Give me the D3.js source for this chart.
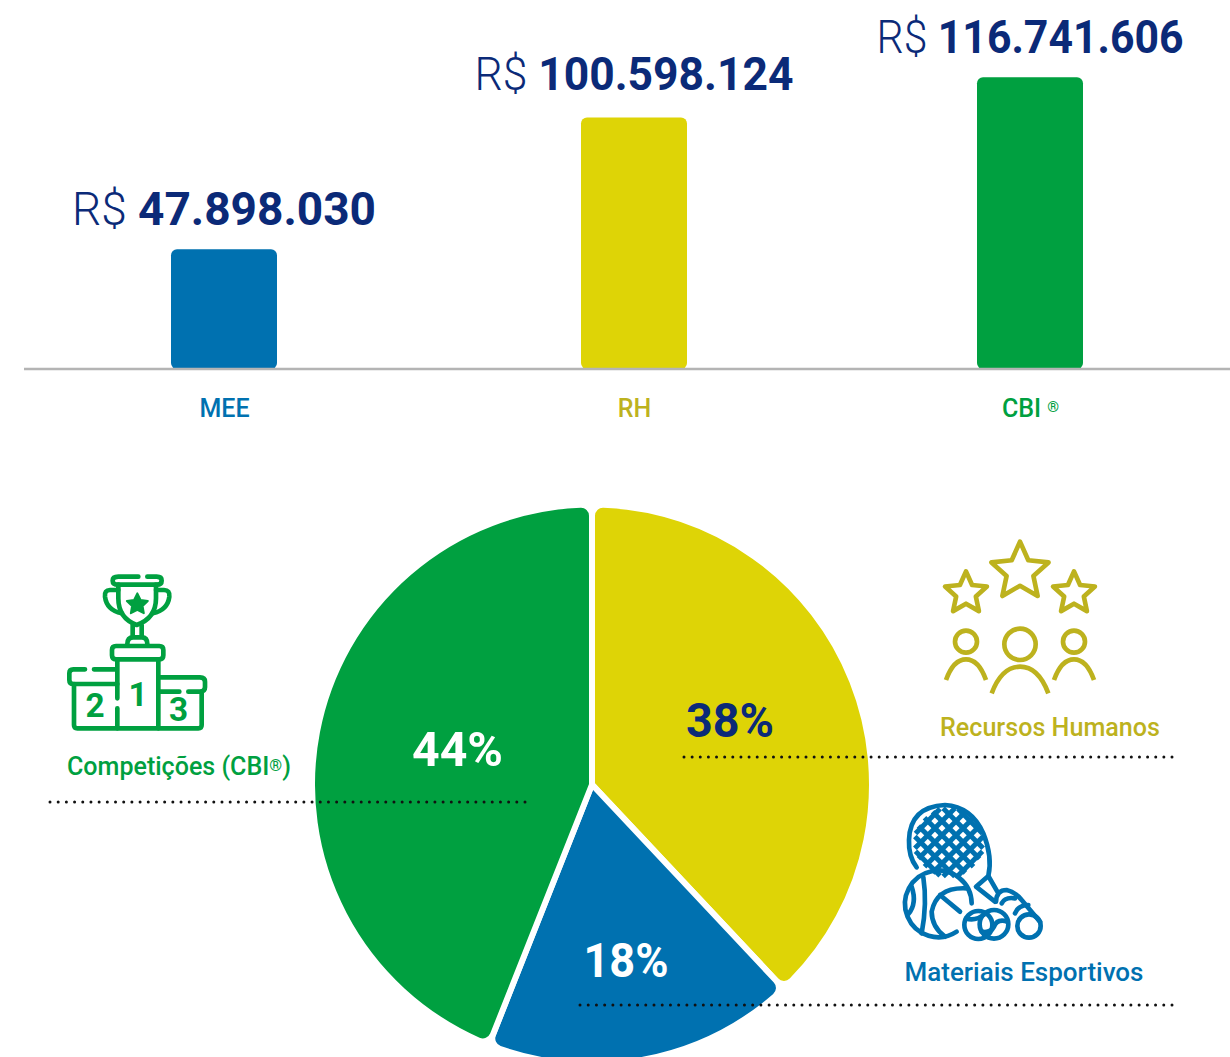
<!DOCTYPE html>
<html><head><meta charset="utf-8">
<script src="https://cdnjs.cloudflare.com/ajax/libs/d3/7.8.5/d3.min.js"></script>
<style>html,body{margin:0;padding:0;background:#fff}svg{display:block}text{font-family:Roboto,sans-serif}</style>
</head><body><svg id="c" width="1230" height="1057"></svg>
<script>
const categories=["MEE","RH","CBI ®"];
const amounts=[47898030,100598124,116741606];
const amountLabels=["47.898.030","100.598.124","116.741.606"];
const barColors=["#0071b0","#ded406","#00a040"];
const categoryColors=["#0071b0","#bdb21e","#00a040"];
const shareNames=["Recursos Humanos","Materiais Esportivos","Competições (CBI®)"];
const shares=[38,18,44];
const shareColors=["#ded406","#0071b0","#00a040"];
const shareTextColors=["#0b2a78","#ffffff","#ffffff"];
const navy="#0b2a78";

const svg=d3.select("#c");
const x=d3.scaleOrdinal().domain(categories).range([224,634,1030]);
const y=d3.scaleLinear().domain([0,120000000]).range([369,69]);
const barW=106;

svg.selectAll("rect.bar").data(categories).join("rect").attr("class","bar")
 .attr("x",d=>x(d)-barW/2).attr("width",barW)
 .attr("y",(d,i)=>y(amounts[i])).attr("height",(d,i)=>y(0)-y(amounts[i]))
 .attr("rx",6).attr("fill",(d,i)=>barColors[i]);
svg.append("line").attr("x1",24).attr("x2",1230).attr("y1",y(0)).attr("y2",y(0)).attr("stroke","#b4b4b4").attr("stroke-width",2.5);

function smallMark(sel,size,dy){ /* sets the registered-trademark sign smaller and raised */
  sel.each(function(){const s=this.textContent,k=s.indexOf("®");if(k<0)return;
    const t=d3.select(this);t.text(null);
    t.append("tspan").text(s.slice(0,k));
    t.append("tspan").attr("font-size",size).attr("dy",dy).text("®");
    if(k+1<s.length)t.append("tspan").attr("dy",-dy).text(s.slice(k+1));});
}

const ax=svg.append("g").attr("transform",`translate(0,${y(0)})`).call(d3.axisBottom(x).tickSize(0).tickPadding(30));
ax.select(".domain").remove();
ax.selectAll("text").attr("font-size",25).attr("font-weight",500).attr("font-family","Roboto")
 .attr("fill",(d,i)=>categoryColors[i]).call(smallMark,15,-5);

const amtOffset=[24,28,24],amtWidth=[304,319,307];
svg.selectAll("text.amt").data(categories).join("text").attr("class","amt")
 .attr("x",(d,i)=>x(d)).attr("y",(d,i)=>y(amounts[i])-amtOffset[i]).attr("text-anchor","middle")
 .attr("font-size",47).attr("fill",navy)
 .attr("textLength",(d,i)=>amtWidth[i]).attr("lengthAdjust","spacingAndGlyphs")
 .each(function(d,i){const t=d3.select(this);
   t.append("tspan").attr("font-weight",300).text("R$ ");
   t.append("tspan").attr("font-weight",700).text(amountLabels[i]);});

/* pie: white outline gives the constant gap between slices */
const R=280,cx=592,cy=784.5;
const pie=d3.pie().sort(null).value(d=>d);
const arc=d3.arc().innerRadius(0).outerRadius(R).cornerRadius(11);
const gp=svg.append("g").attr("transform",`translate(${cx},${cy})`);
gp.selectAll("path").data(pie(shares)).join("path").attr("d",arc).attr("fill",(d,i)=>shareColors[i])
  .attr("stroke","#fff").attr("stroke-width",6).attr("stroke-linejoin","round");

/* dotted leaders */
const dots=[[684,1172,757],[50,525,802],[580,1172,1005]];
svg.selectAll("line.dot").data(dots).join("line").attr("class","dot")
 .attr("x1",d=>d[0]).attr("x2",d=>d[1]+.5).attr("y1",d=>d[2]).attr("y2",d=>d[2])
 .attr("stroke","#111").attr("stroke-width",3).attr("stroke-linecap","round")
 .attr("stroke-dasharray",d=>`0 ${(d[1]-d[0])/Math.round((d[1]-d[0])/8.2)}`);

/* percent labels */
const pctPos=[[730,737],[626,977],[457.5,766]],pctWidth=[88,85,91];
svg.selectAll("text.pct").data(shares).join("text").attr("class","pct")
 .attr("x",(d,i)=>pctPos[i][0]).attr("y",(d,i)=>pctPos[i][1]).attr("text-anchor","middle")
 .attr("font-size",48).attr("font-weight",700).attr("fill",(d,i)=>shareTextColors[i])
 .attr("textLength",(d,i)=>pctWidth[i]).attr("lengthAdjust","spacingAndGlyphs").text(d=>d+"%");

/* legend names */
const namePos=[[1050,736],[1024,981],[179,775]],nameWidth=[220,239,224];
const nameCol=["#bdb21e","#0071b0","#00a040"];
svg.selectAll("text.nm").data(shareNames).join("text").attr("class","nm")
 .attr("x",(d,i)=>namePos[i][0]).attr("y",(d,i)=>namePos[i][1]).attr("text-anchor","middle")
 .attr("font-size",26).attr("font-weight",500).attr("fill",(d,i)=>nameCol[i])
 .attr("textLength",(d,i)=>nameWidth[i]).attr("lengthAdjust","spacingAndGlyphs").text(d=>d).call(smallMark,17,-4);

/* icons, drawn in a 3x local grid */
function icon(ox,oy,col){return svg.append("g").attr("transform",`translate(${ox},${oy}) scale(${1/3})`)
  .attr("fill","none").attr("stroke",col).attr("stroke-width",14).attr("stroke-linecap","round").attr("stroke-linejoin","round");}
function star(cxs,cys,r,ratio){const p=[];for(let i=0;i<10;i++){const a=-Math.PI/2+i*Math.PI/5,q=i%2?r*ratio:r;p.push([cxs+q*Math.cos(a),cys+q*Math.sin(a)]);}return "M"+p.join("L")+"Z";}

const t=icon(40,560,"#00a040");
["M295 50H235Q218 50 218 62Q218 74 235 74H350Q365 74 365 62Q365 50 350 50H322",
 "M235 74V115Q235 175 290 195Q348 175 348 115V74",
 "M235 90H210Q193 90 195 110Q200 150 245 160","M348 90H372Q390 90 388 110Q383 150 338 160",
 "M278 195V228M305 195V228","M262 252Q262 232 280 232H305Q322 232 322 252",
 "M228 258H358Q370 258 370 270V286Q370 298 358 298H228Q216 298 216 286V270Q216 258 228 258Z",
 "M232 298V415M232 445V505M355 298V505",
 "M135 328H100Q88 328 88 340V360Q88 372 100 372H232M162 328H228",
 "M102 372V495Q102 505 112 505H475Q485 505 485 495V397",
 "M360 352H480Q495 352 495 365V382Q495 395 480 395H445M418 395H360"
].forEach(d=>t.append("path").attr("d",d));
t.append("path").attr("d",star(292,133,33,0.5)).attr("fill","#00a040").attr("stroke-width",6);
[["1",294,437],["2",165,472],["3",416,484]].forEach(n=>t.append("text").attr("x",n[1]).attr("y",n[2]).attr("text-anchor","middle")
  .attr("font-size",100).attr("font-weight",700).attr("fill","#00a040").attr("stroke","none").text(n[0]));

const h=icon(920,530,"#bdb21e");
[[300,125,90],[138,190,66],[462,190,66]].forEach(s=>h.append("path").attr("d",star(s[0],s[1],s[2],0.47)));
[[138,335,33],[300,343,47],[462,335,33]].forEach(c=>h.append("circle").attr("cx",c[0]).attr("cy",c[1]).attr("r",c[2]));
["M78 450Q100 388 138 388Q176 388 198 450","M215 490Q245 410 300 410Q355 410 385 490","M402 450Q424 388 462 388Q500 388 522 450"]
 .forEach(d=>h.append("path").attr("d",d).attr("stroke-linecap","butt"));

const m=icon(890,790,"#0071b0");
["M80 232Q55 200 57 150Q60 50 165 45Q245 50 280 130Q308 200 295 258L258 290L315 335",
 "M295 258L322 305",
 "M318 335Q320 300 350 300Q375 305 395 330L450 395",
 "M335 340Q345 320 375 325","M375 370Q385 345 415 345",
 "M245 340A100 100 0 1 0 200 425",
 "M230 295Q140 290 125 365Q125 410 165 440",
 "M150 315L210 365","M100 262Q112 340 95 430","M65 290Q82 340 55 372"
].forEach(d=>m.append("path").attr("d",d));
m.append("circle").attr("cx",417).attr("cy",408).attr("r",35);
m.append("circle").attr("cx",265).attr("cy",405).attr("r",42);
m.append("circle").attr("cx",312).attr("cy",403).attr("r",43);
m.append("path").attr("d","M285 372Q255 395 228 385M352 395Q322 385 312 410Q302 430 275 425");
const meshC=[177,157],meshR=104,sp=30;
for(let k=-3;k<=3;k++){const q=k*sp,l=Math.sqrt(meshR*meshR-q*q);
  m.append("line").attr("x1",meshC[0]+(q-l)*Math.SQRT1_2).attr("y1",meshC[1]+(q+l)*Math.SQRT1_2)
   .attr("x2",meshC[0]+(q+l)*Math.SQRT1_2).attr("y2",meshC[1]+(q-l)*Math.SQRT1_2).attr("stroke-width",15).attr("stroke-linecap","butt");
  m.append("line").attr("x1",meshC[0]+(q-l)*Math.SQRT1_2).attr("y1",meshC[1]-(q+l)*Math.SQRT1_2)
   .attr("x2",meshC[0]+(q+l)*Math.SQRT1_2).attr("y2",meshC[1]-(q-l)*Math.SQRT1_2).attr("stroke-width",15).attr("stroke-linecap","butt");
}
</script></body></html>
